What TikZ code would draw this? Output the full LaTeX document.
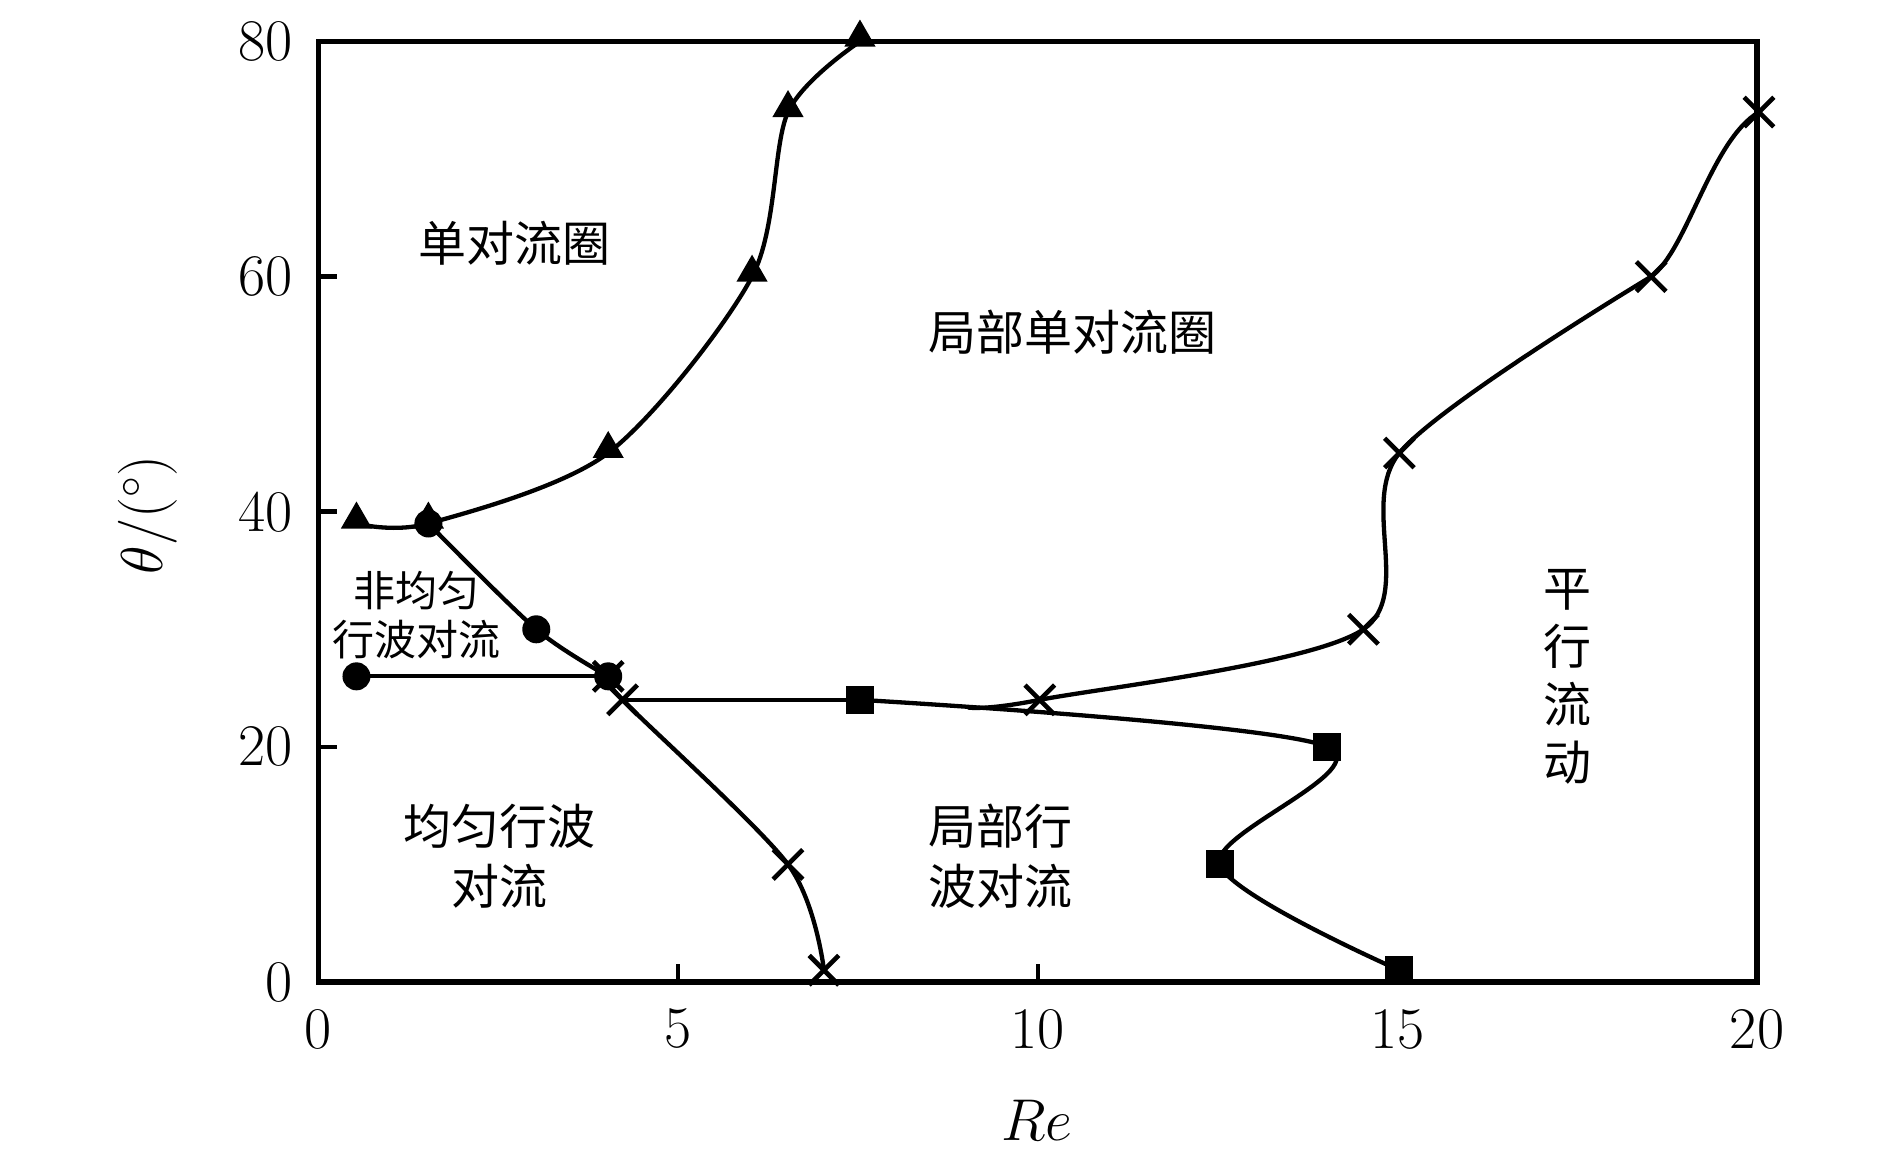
\RequirePackage{fix-cm}
\documentclass[tikz,border=0pt]{standalone}
\usepackage{fontspec}
\newfontfamily\cjk{Noto Sans CJK SC}
\usetikzlibrary{shapes.geometric,shapes.misc}
\begin{document}
\begin{tikzpicture}[x=1pt,y=1pt,
  curve/.style={line width=4.3pt, line join=round},
  mtri/.style={regular polygon, regular polygon sides=3, fill=black, inner sep=0pt, minimum size=36pt, yshift=4pt},
  mdot/.style={circle, fill=black, inner sep=0pt, minimum size=28pt},
  msq/.style={rectangle, fill=black, inner sep=0pt, minimum size=28pt},
  mcross/.style={cross out, draw=black, line width=4.6pt, inner sep=0pt, minimum size=25pt},
  ticklab/.style={font=\fontsize{59}{70}\selectfont, inner sep=0pt},
  region/.style={font=\cjk\fontsize{48}{60}\selectfont, align=center, inner sep=0pt},
  tickmark/.style={line width=4.5pt}]
\useasboundingbox (0,0) rectangle (1890,1158);
% frame
\coordinate (fbl) at (318.5,176);
\coordinate (ftr) at (1757,1116.5);
\draw[line width=5.5pt] (fbl) rectangle (ftr);
% ticks
\foreach \k/\lab in {0/0,1/5,2/10,3/15,4/20}{
  \coordinate (xt\k) at ({318.5+359.625*\k},176);
  \node[ticklab] (xl\k) at ({318.5+359.625*\k},129) {\lab};
}
\foreach \k/\lab in {0/0,1/20,2/40,3/60,4/80}{
  \coordinate (yt\k) at (318.5,{176+235.125*\k});
  \node[ticklab, anchor=east] (yl\k) at (293,{176+235.125*\k}) {\lab};
}
\foreach \k in {1,2,3}{
  \draw[tickmark] (xt\k) -- ++(0,18);
  \draw[tickmark] (yt\k) -- ++(18,0);
}
\node[ticklab, rotate=90] (ylab) at (148,643) {$\theta/(^\circ)$};
\node[ticklab] (xlab) at (1037,38) {$Re$};
% data
\begin{scope}[shift={(320.5,176)}, x=71.925pt, y=11.756pt]
  \coordinate (t1) at (0.5,39);
  \coordinate (t2) at (1.5,39);
  \coordinate (t3) at (4,45);
  \coordinate (t4) at (6,60);
  \coordinate (t5) at (6.5,74);
  \coordinate (t6) at (7.5,80);
  \coordinate (c0) at (0.5,26);
  \coordinate (c1) at (1.5,39);
  \coordinate (c2) at (3,30);
  \coordinate (c3) at (4,26);
  \coordinate (x1) at (4,26);
  \coordinate (x2) at (4.2,24);
  \coordinate (x3) at (6.5,10);
  \coordinate (x4) at (7,1);
  \coordinate (s1) at (7.5,24);
  \coordinate (s2) at (14,20);
  \coordinate (s3) at (12.5,10);
  \coordinate (s4) at (15,1);
  \coordinate (x0) at (9.0,23.35);
  \coordinate (x5) at (10,24);
  \coordinate (x6) at (14.5,30);
  \coordinate (x7) at (15,45);
  \coordinate (x8) at (18.5,60);
  \coordinate (x9) at (20,74);
  \draw[curve] plot[smooth] coordinates {(t1) (t2) (t3) (t4) (t5) (t6)};
  \draw[curve] plot[smooth] coordinates {(c1) (c2) (c3)};
  \draw[curve] (c0) -- (c3);
  \draw[curve] plot[smooth] coordinates {(x1) (x2) (x3) (x4)};
  \draw[curve] (x2) -- (s1);
  \draw[curve] plot[smooth] coordinates {(s1) (s2) (s3) (s4)};
  \draw[curve] plot[smooth] coordinates {(x0) (x5) (x6) (x7) (x8)}
     .. controls +(36pt,26pt) and +(-48pt,-28pt) .. (x9);
  \foreach \p in {t1,t2,t3,t4,t5,t6}{\node[mtri] (m\p) at (\p) {};}
  \foreach \p in {c0,c1,c2,c3}{\node[mdot] (m\p) at (\p) {};}
  \foreach \p in {s1,s2,s3,s4}{\node[msq] (m\p) at (\p) {};}
  \foreach \p in {x1,x2,x3,x4,x5,x6,x7,x8,x9}{\node[mcross] (m\p) at (\p) {};}
\end{scope}
% region labels
\node[region] (r1) at (514,915) {单对流圈};
\node[region] (r2) at (1072,826) {局部单对流圈};
\node[region, font=\cjk\fontsize{42}{49}\selectfont] (r3) at (416,542.5) {非均匀\\行波对流};
\node[region] (r4) at (499,301.5) {均匀行波\\对流};
\node[region] (r5) at (1000,301.5) {局部行\\波对流};
\node[region, font=\cjk\fontsize{48}{58}\selectfont] (r6) at (1567,481) {平\\行\\流\\动};
\end{tikzpicture}
\end{document}
